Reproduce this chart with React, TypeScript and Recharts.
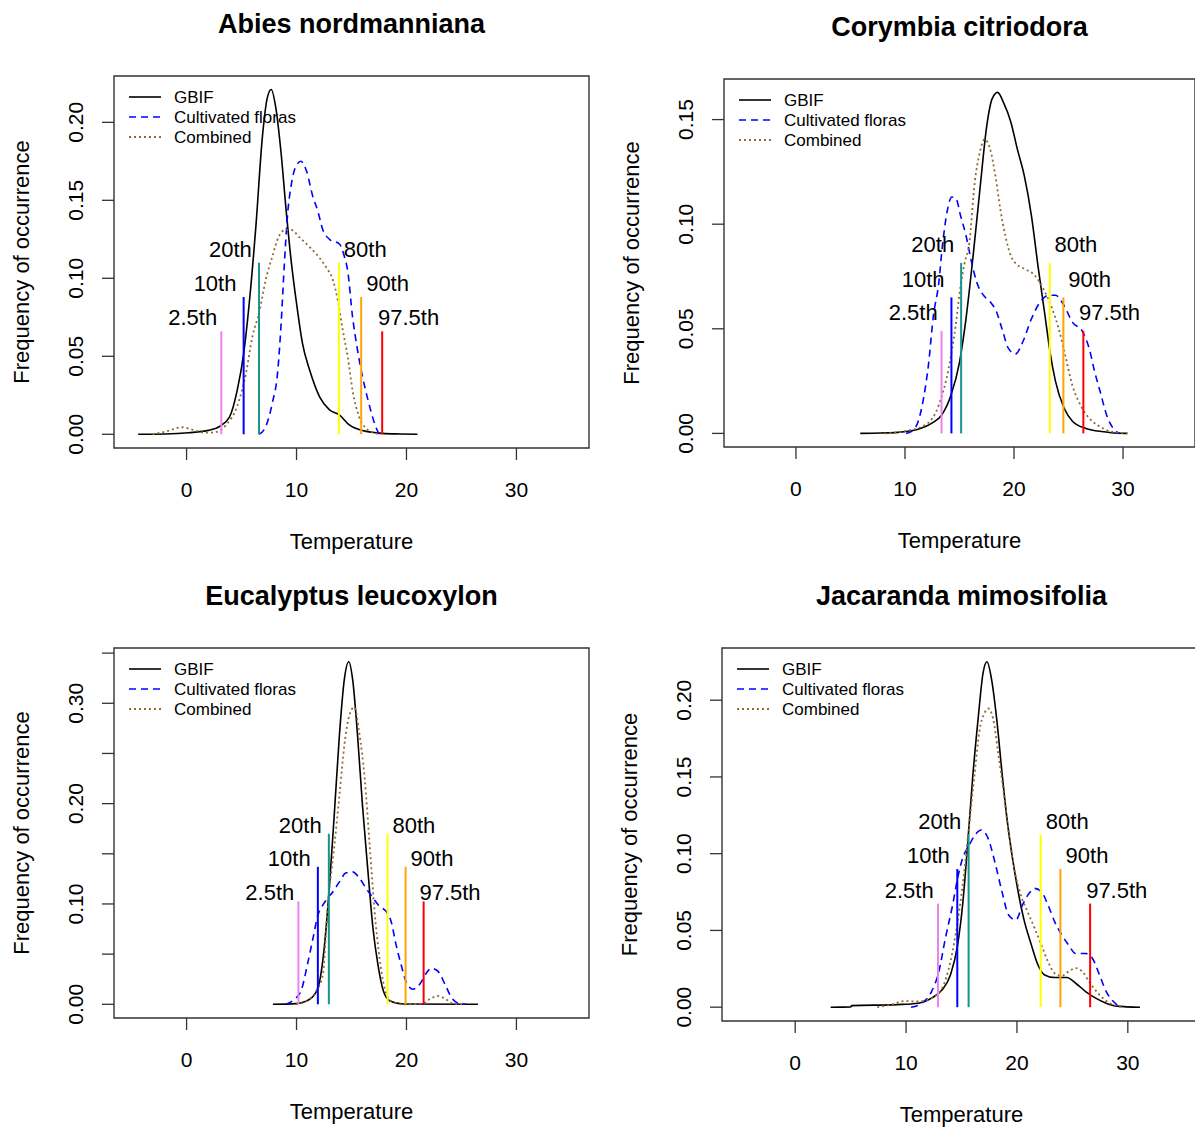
import { LineChart, Line, XAxis, YAxis, ReferenceLine, ReferenceDot, ReferenceArea } from 'recharts';

// density curves: [temperature, frequency]
const abiesGbif = [[-4.4, 0], [-2, 0.0002], [0.2, 0.001], [2, 0.0025], [3, 0.005], [3.9, 0.011], [4.6, 0.028], [5.2, 0.052], [5.7, 0.084], [6.3, 0.133], [6.9, 0.191], [7.35, 0.216], [7.7, 0.221], [8.1, 0.21], [8.6, 0.18], [9.05, 0.144], [9.5, 0.112], [10, 0.084], [10.55, 0.058], [11.2, 0.041], [12.1, 0.024], [13, 0.0156], [13.9, 0.0124], [14.8, 0.006], [16, 0.0024], [17.8, 0.0006], [19.4, 0.0002], [21, 0]];
const abiesCult = [[6.6, 0], [7.2, 0.005], [7.8, 0.02], [8.3, 0.041], [8.6, 0.071], [8.9, 0.11], [9.2, 0.142], [9.5, 0.159], [9.95, 0.172], [10.4, 0.175], [10.9, 0.169], [11.5, 0.152], [11.9, 0.144], [12.4, 0.131], [13, 0.125], [13.9, 0.122], [14.35, 0.114], [14.65, 0.105], [15.1, 0.075], [15.55, 0.054], [16, 0.037], [16.5, 0.022], [17.1, 0.007], [17.5, 0.0006], [17.7, 0]];
const abiesComb = [[-3.1, 0], [-1.9, 0.0017], [-0.4, 0.0045], [0.5, 0.003], [1.8, 0.001], [2.7, 0.0015], [3.6, 0.006], [4.6, 0.018], [5.4, 0.039], [6, 0.063], [6.6, 0.078], [7.2, 0.099], [7.8, 0.114], [8.4, 0.127], [9, 0.131], [9.5, 0.131], [10.3, 0.126], [11.2, 0.12], [12.1, 0.113], [12.7, 0.107], [13.3, 0.099], [13.75, 0.086], [14.2, 0.067], [14.65, 0.05], [15.1, 0.028], [15.7, 0.011], [16.3, 0.004], [17.2, 0.0006], [17.7, 0]];
const abiesPct = [3.16, 5.19, 6.59, 13.85, 15.88, 17.79];
const abiesPctH = [0.066, 0.088, 0.11, 0.11, 0.088, 0.066];

const corymbiaGbif = [[5.9, 0], [7.8, 0.0002], [9.3, 0.0005], [11.2, 0.002], [12.5, 0.005], [13.35, 0.0087], [14.2, 0.018], [15, 0.034], [15.6, 0.055], [16.25, 0.085], [16.9, 0.118], [17.5, 0.147], [18, 0.16], [18.5, 0.163], [19.05, 0.158], [19.7, 0.149], [20.3, 0.136], [20.95, 0.123], [21.6, 0.104], [22.2, 0.08], [22.85, 0.056], [23.3, 0.039], [23.8, 0.025], [24.6, 0.012], [25.4, 0.0056], [26.6, 0.0024], [28.2, 0.0008], [29.4, 0.0001], [30.4, 0]];
const corymbiaCult = [[10.1, 0], [10.6, 0.001], [11.2, 0.0056], [11.7, 0.0167], [12.15, 0.0326], [12.6, 0.056], [13.1, 0.072], [13.4, 0.088], [13.9, 0.107], [14.3, 0.113], [14.7, 0.112], [15.1, 0.104], [15.6, 0.0945], [16.1, 0.082], [16.6, 0.072], [17.2, 0.066], [17.8, 0.063], [18.4, 0.058], [18.9, 0.05], [19.5, 0.0405], [20.15, 0.038], [20.8, 0.0437], [21.6, 0.0548], [22.4, 0.0628], [23.2, 0.066], [23.8, 0.066], [24.6, 0.061], [25.35, 0.0532], [26.3, 0.0485], [26.9, 0.0405], [27.4, 0.0294], [27.9, 0.02], [28.5, 0.0087], [29.1, 0.0024], [29.7, 0]];
const corymbiaComb = [[8.1, 0], [9.9, 0.001], [11.85, 0.004], [13.1, 0.0135], [14, 0.031], [14.65, 0.0516], [15.1, 0.0707], [15.45, 0.081], [15.9, 0.091], [16.4, 0.12], [16.85, 0.134], [17.3, 0.1406], [17.8, 0.136], [18.3, 0.123], [18.75, 0.107], [19.2, 0.0945], [19.7, 0.085], [20.2, 0.081], [20.95, 0.0787], [21.9, 0.0755], [22.7, 0.069], [23.5, 0.0596], [24.1, 0.05], [24.7, 0.0373], [25.35, 0.023], [26.1, 0.0135], [26.9, 0.0072], [27.9, 0.0032], [28.8, 0.001], [30.4, 0]];
const corymbiaPct = [13.35, 14.26, 15.15, 23.28, 24.53, 26.36];
const corymbiaPctH = [0.049, 0.065, 0.0815, 0.0815, 0.065, 0.049];

const eucGbif = [[7.85, 0], [9.95, 0.0007], [11.2, 0.005], [11.95, 0.0165], [12.55, 0.0595], [13, 0.119], [13.45, 0.192], [13.9, 0.268], [14.35, 0.324], [14.75, 0.3414], [15.1, 0.324], [15.55, 0.268], [16, 0.198], [16.5, 0.132], [16.95, 0.076], [17.4, 0.0397], [17.9, 0.0132], [18.5, 0.0033], [19.7, 0.0003], [26.5, 0]];
const eucCult = [[9.05, 0], [9.8, 0.005], [10.4, 0.013], [11, 0.04], [11.5, 0.066], [11.95, 0.089], [12.4, 0.099], [12.85, 0.106], [13.3, 0.112], [13.9, 0.122], [14.5, 0.131], [15.1, 0.132], [15.7, 0.126], [16.3, 0.116], [16.95, 0.106], [17.55, 0.0976], [18.15, 0.0926], [18.6, 0.0827], [19.05, 0.0595], [19.5, 0.04], [19.95, 0.023], [20.6, 0.015], [21.2, 0.02], [21.8, 0.031], [22.25, 0.036], [22.85, 0.033], [23.5, 0.02], [24.1, 0.0066], [24.8, 0.0007], [25.4, 0]];
const eucComb = [[9.95, 0], [10.85, 0.003], [11.8, 0.013], [12.4, 0.03], [12.7, 0.075], [12.95, 0.112], [13.2, 0.135], [13.45, 0.159], [13.9, 0.208], [14.35, 0.258], [14.8, 0.288], [15.25, 0.296], [15.7, 0.271], [16.2, 0.225], [16.65, 0.159], [17.1, 0.0926], [17.55, 0.0463], [18, 0.0165], [18.6, 0.0033], [19.7, 0], [21.5, 0.0007], [22.1, 0.005], [22.85, 0.0083], [23.6, 0.005], [24.2, 0.0007], [25.1, 0]];
const eucPct = [10.17, 11.94, 12.94, 18.28, 19.92, 21.56];
const eucPctH = [0.1025, 0.137, 0.17, 0.17, 0.137, 0.1025];

const jacGbif = [[3.2, 0], [5.0, 0.0002], [5.1, 0.001], [9.2, 0.0017], [11.1, 0.0026], [12.3, 0.0059], [13.25, 0.0113], [14, 0.021], [14.65, 0.0406], [15.1, 0.0666], [15.55, 0.1056], [16, 0.149], [16.5, 0.188], [16.95, 0.218], [17.3, 0.225], [17.7, 0.214], [18.2, 0.186], [18.65, 0.153], [19.1, 0.123], [19.6, 0.097], [20, 0.0796], [20.6, 0.058], [21.3, 0.0406], [21.9, 0.0275], [22.5, 0.021], [23.4, 0.0193], [24.5, 0.0193], [25.3, 0.0156], [26.2, 0.0102], [27.1, 0.0059], [28.05, 0.0026], [29, 0.0007], [31.1, 0]];
const jacCult = [[10.45, 0], [11.4, 0.0026], [12.3, 0.0102], [12.95, 0.023], [13.55, 0.045], [14.2, 0.0666], [14.65, 0.084], [15.1, 0.097], [15.7, 0.1056], [16.3, 0.113], [16.8, 0.1154], [17.4, 0.11], [18, 0.0948], [18.65, 0.0753], [19.25, 0.06], [19.9, 0.0568], [20.5, 0.0666], [21.1, 0.0742], [21.6, 0.0774], [22.2, 0.0753], [22.8, 0.0666], [23.4, 0.0557], [24.05, 0.047], [24.65, 0.0406], [25.3, 0.035], [26.2, 0.035], [26.8, 0.0319], [27.45, 0.021], [28.05, 0.0102], [28.7, 0.0037], [29.3, 0]];
const jacComb = [[7.4, 0], [8.6, 0.0015], [9.85, 0.004], [11.1, 0.0037], [12.3, 0.0059], [13.25, 0.0124], [14, 0.0297], [14.65, 0.0557], [15.25, 0.0883], [15.7, 0.119], [16.2, 0.153], [16.6, 0.179], [17.1, 0.192], [17.4, 0.1946], [17.85, 0.188], [18.3, 0.166], [18.8, 0.14], [19.25, 0.114], [19.7, 0.0926], [20.35, 0.0731], [20.95, 0.0623], [21.6, 0.0514], [22.2, 0.0406], [22.8, 0.0297], [23.4, 0.0221], [24.05, 0.0204], [24.65, 0.0232], [25.3, 0.0254], [25.9, 0.0232], [26.5, 0.0167], [27.45, 0.008], [28.35, 0.0026], [29.6, 0]];
const jacPct = [12.88, 14.62, 15.64, 22.14, 23.92, 26.6];
const jacPctH = [0.0675, 0.09, 0.1125, 0.1125, 0.09, 0.0675];

const pctLabels = ['2.5th', '10th', '20th', '80th', '90th', '97.5th'];
const pctColors = ['#EE82EE', '#0000FF', '#16938A', '#FFFF00', '#FFA500', '#FF0000'];
const seriesNames = ['GBIF', 'Cultivated floras', 'Combined'];
const xTicks = [0, 10, 20, 30];

const X_DOMAIN = [-6.6, 36.6];
const FONT = '"Liberation Sans", Arial, Helvetica, sans-serif';
const styles = [
  { stroke: '#000000', dash: undefined, width: 1.6 },
  { stroke: '#0000FF', dash: '7 5', width: 1.6 },
  { stroke: '#8E6A2E', dash: '2 3', width: 1.8 },
];

const toPts = (arr: number[][]) => arr.map(([x, y]) => ({ x, y }));

const panels = [
  { title: 'Abies nordmanniana', box: { L: 114, T: 76, W: 475, H: 372 }, yDomain: [-0.0088, 0.2297], yTicks: [0, 0.05, 0.1, 0.15, 0.2], yLabels: [0, 0.05, 0.1, 0.15, 0.2], curves: [abiesGbif, abiesCult, abiesComb], pct: abiesPct, pctH: abiesPctH },
  { title: 'Corymbia citriodora', box: { L: 724, T: 79, W: 471, H: 368 }, yDomain: [-0.0065, 0.1694], yTicks: [0, 0.05, 0.1, 0.15], yLabels: [0, 0.05, 0.1, 0.15], curves: [corymbiaGbif, corymbiaCult, corymbiaComb], pct: corymbiaPct, pctH: corymbiaPctH },
  { title: 'Eucalyptus leucoxylon', box: { L: 114, T: 648, W: 475, H: 370 }, yDomain: [-0.01366, 0.3551], yTicks: [0, 0.05, 0.1, 0.15, 0.2, 0.25, 0.3, 0.35], yLabels: [0, 0.1, 0.2, 0.3], curves: [eucGbif, eucCult, eucComb], pct: eucPct, pctH: eucPctH },
  { title: 'Jacaranda mimosifolia', box: { L: 722, T: 648, W: 479, H: 373 }, yDomain: [-0.009, 0.234], yTicks: [0, 0.05, 0.1, 0.15, 0.2], yLabels: [0, 0.05, 0.1, 0.15, 0.2], curves: [jacGbif, jacCult, jacComb], pct: jacPct, pctH: jacPctH },
];

function XTick(props: any) {
  const { x, y, payload } = props;
  return (
    <text x={x} y={y + 37} textAnchor="middle" fontSize={21} fontFamily={FONT} fill="#000">
      {payload.value}
    </text>
  );
}

function YTick(props: any) {
  const { x, y, payload, shown } = props;
  if (!shown.includes(payload.value)) return <g />;
  const bx = x - 19;
  return (
    <text x={bx} y={y} transform={`rotate(-90, ${bx}, ${y})`} textAnchor="middle" fontSize={21} fontFamily={FONT} fill="#000">
      {payload.value.toFixed(2)}
    </text>
  );
}

function Panel({ p }: { p: any }) {
  const { L, T, W, H } = p.box;
  return (
    <div style={{ position: 'absolute', left: L - 100, top: T - 10 }}>
      <LineChart width={W + 110} height={H + 70} margin={{ top: 10, right: 10, left: 0, bottom: 0 }}>
        <XAxis type="number" dataKey="x" domain={X_DOMAIN} ticks={xTicks} interval={0} allowDataOverflow
          axisLine={false} tickLine={{ stroke: '#333', strokeWidth: 1.3 }} tickSize={12} tickMargin={0} height={60} tick={XTick} />
        <YAxis type="number" domain={p.yDomain} ticks={p.yTicks} interval={0} allowDataOverflow
          axisLine={false} tickLine={{ stroke: '#333', strokeWidth: 1.3 }} tickSize={12} tickMargin={0} width={100}
          tick={(tp: any) => <YTick {...tp} shown={p.yLabels} />} />
        <ReferenceArea x1={X_DOMAIN[0]} x2={X_DOMAIN[1]} y1={p.yDomain[0]} y2={p.yDomain[1]} fill="none" fillOpacity={0} stroke="#333" strokeWidth={1.4} ifOverflow="visible" />
        {p.curves.map((c: number[][], i: number) => (
          <Line key={seriesNames[i]} data={toPts(c)} dataKey="y" type="monotone" dot={false} activeDot={false}
            stroke={styles[i].stroke} strokeWidth={styles[i].width} strokeDasharray={styles[i].dash} isAnimationActive={false} />
        ))}
        {p.pct.map((v: number, i: number) => (
          <ReferenceLine key={'l' + i} segment={[{ x: v, y: 0 }, { x: v, y: p.pctH[i] }]} stroke={pctColors[i]} strokeWidth={2} ifOverflow="visible" />
        ))}
        {p.pct.map((v: number, i: number) => (
          <ReferenceDot key={'t' + i} x={i < 3 ? v - 2.6 : v + 2.4} y={p.pctH[i] + 0.0087} r={0} ifOverflow="visible"
            shape={(sp: any) => (
              <text x={sp.cx} y={sp.cy} dy="0.35em" textAnchor="middle" fontSize={22} fontFamily={FONT} fill="#000">
                {pctLabels[i]}
              </text>
            )} />
        ))}
      </LineChart>
    </div>
  );
}

function Overlay() {
  return (
    <svg width={1195} height={1129} style={{ position: 'absolute', left: 0, top: 0, pointerEvents: 'none' }} fontFamily={FONT}>
      {panels.map((p) => {
        const { L, T, W, H } = p.box;
        const cx = L + W / 2;
        const ly = L - 85;
        const my = T + H / 2;
        return (
          <g key={p.title}>
            <text x={cx} y={T - 43} textAnchor="middle" fontSize={27} fontWeight="bold" fill="#000">{p.title}</text>
            <text x={cx} y={T + H + 101} textAnchor="middle" fontSize={22} fill="#000">Temperature</text>
            <text x={ly} y={my} transform={`rotate(-90, ${ly}, ${my})`} textAnchor="middle" fontSize={22} fill="#000">Frequency of occurrence</text>
            {seriesNames.map((n, i) => {
              const ry = T + 21 + 20 * i;
              return (
                <g key={n}>
                  <line x1={L + 15} x2={L + 47} y1={ry} y2={ry} stroke={styles[i].stroke} strokeWidth={styles[i].width} strokeDasharray={styles[i].dash} />
                  <text x={L + 60} y={ry + 6} fontSize={17} fill="#000">{n}</text>
                </g>
              );
            })}
          </g>
        );
      })}
    </svg>
  );
}

export default function App() {
  return (
    <div style={{ position: 'absolute', left: 0, top: 0, width: 1195, height: 1129, overflow: 'hidden', background: '#fff', fontFamily: FONT }}>
      {panels.map((p) => <Panel key={p.title} p={p} />)}
      <Overlay />
    </div>
  );
}
